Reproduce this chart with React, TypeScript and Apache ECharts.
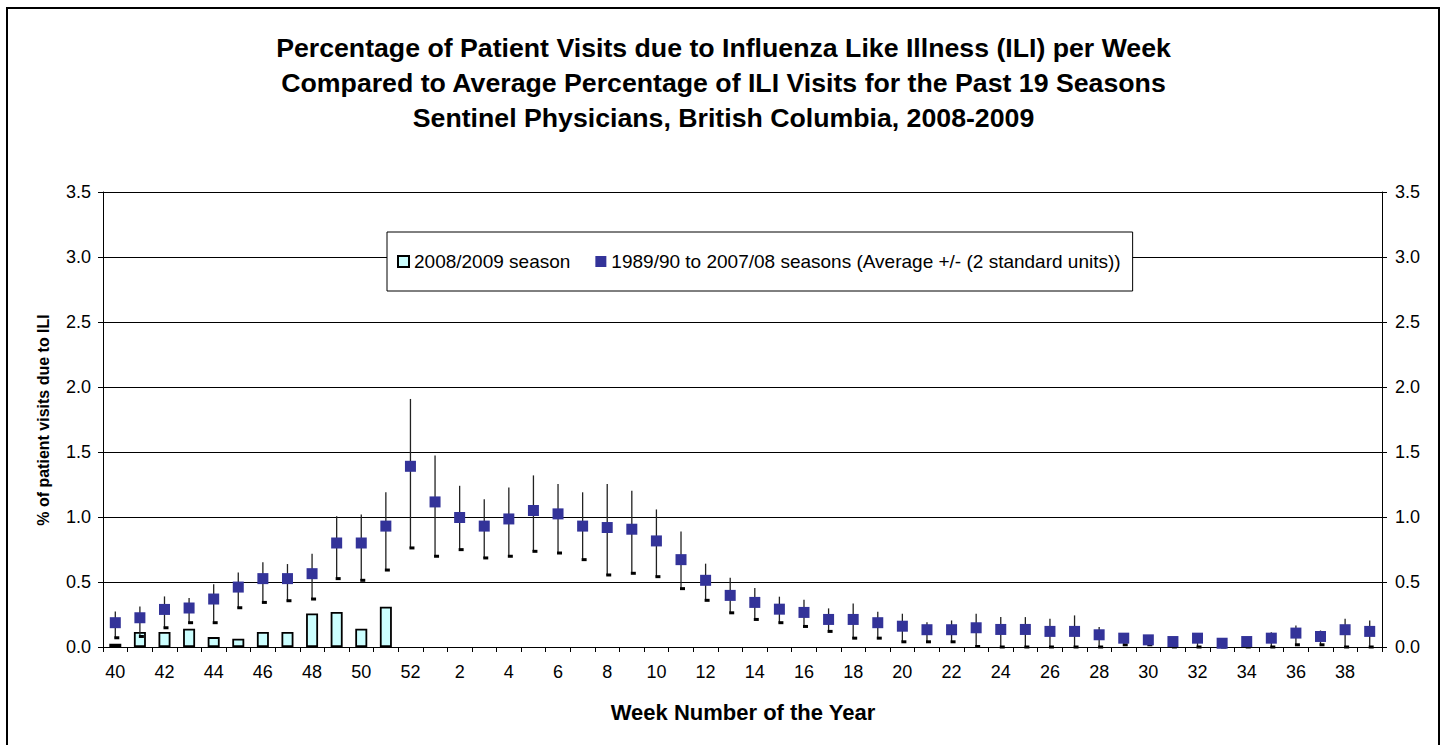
import React, { useEffect, useRef } from "react";
import * as echarts from "echarts";

const weeks = [
  "40","41","42","43","44","45","46","47","48","49","50","51","52",
  "1","2","3","4","5","6","7","8","9","10","11","12","13","14","15","16","17","18","19","20",
  "21","22","23","24","25","26","27","28","29","30","31","32","33","34","35","36","37","38","39",
];

// 2008/2009 season (only weeks 40-51 reported)
const season2008: (number | null)[] = [
  0.025, 0.115, 0.115, 0.14, 0.076, 0.063, 0.115, 0.115, 0.258, 0.27, 0.14, 0.31,
  null, null, null, null, null, null, null, null, null, null, null, null, null, null,
  null, null, null, null, null, null, null, null, null, null, null, null, null, null,
  null, null, null, null, null, null, null, null, null, null, null, null,
];

// 1989/90 to 2007/08 seasons average
const avg = [
  0.187, 0.225, 0.289, 0.30, 0.369, 0.461, 0.526, 0.526, 0.564, 0.80, 0.80, 0.93, 1.39,
  1.116, 0.996, 0.93, 0.985, 1.05, 1.024, 0.93, 0.919, 0.906, 0.816, 0.672, 0.513, 0.397,
  0.343, 0.291, 0.266, 0.212, 0.212, 0.187, 0.16, 0.133, 0.133, 0.148, 0.135, 0.135, 0.12,
  0.12, 0.094, 0.068, 0.055, 0.042, 0.068, 0.029, 0.042, 0.068, 0.107, 0.081, 0.133, 0.12,
];

// Average + 2 standard units
const hi = [
  0.274, 0.312, 0.389, 0.376, 0.482, 0.574, 0.651, 0.638, 0.718, 1.006, 1.019, 1.19, 1.908,
  1.474, 1.24, 1.137, 1.227, 1.32, 1.253, 1.19, 1.253, 1.201, 1.058, 0.888, 0.641, 0.533,
  0.453, 0.387, 0.364, 0.297, 0.335, 0.271, 0.256, 0.19, 0.204, 0.256, 0.23, 0.23, 0.217,
  0.243, 0.153, 0.09, 0.075, 0.06, 0.09, 0.045, 0.06, 0.114, 0.166, 0.127, 0.217, 0.204,
];

// Average - 2 standard units
const lo = [
  0.071, 0.081, 0.148, 0.187, 0.187, 0.302, 0.343, 0.356, 0.369, 0.526, 0.513, 0.592, 0.762,
  0.698, 0.749, 0.685, 0.698, 0.736, 0.723, 0.672, 0.554, 0.567, 0.541, 0.449, 0.359, 0.263,
  0.212, 0.187, 0.158, 0.12, 0.068, 0.068, 0.04, 0.04, 0.04, 0.004, 0, 0, 0,
  0, 0, 0.017, 0.017, 0, 0, 0, 0, 0, 0.017, 0.017, 0, 0,
];

const titleLines = [
  "Percentage of Patient Visits due to Influenza Like Illness (ILI) per Week",
  "Compared to Average Percentage of ILI Visits for the Past 19 Seasons",
  "Sentinel Physicians, British Columbia, 2008-2009",
];
const seasonName = "2008/2009 season";
const avgName = "1989/90 to 2007/08 seasons (Average +/- (2 standard units))";
const yName = "% of patient visits due to ILI";
const xName = "Week Number of the Year";

const FONT = "'Liberation Sans', Arial, sans-serif";

export default function App() {
  const ref = useRef<HTMLDivElement>(null);

  useEffect(() => {
    if (!ref.current) return;
    const chart = echarts.init(ref.current, null, { renderer: "svg" });

    const errData = weeks.map((_, i) => [i, lo[i], hi[i]]);

    const yAxisBase = {
      type: "value",
      min: 0,
      max: 3.5,
      interval: 0.5,
      axisLine: { show: true, lineStyle: { color: "#000", width: 1 } },
      axisTick: { show: true, length: 5, lineStyle: { color: "#000", width: 1 } },
      axisLabel: {
        color: "#000",
        fontSize: 18,
        fontFamily: FONT,
        formatter: (v: number) => v.toFixed(1),
      },
    };

    const option = {
      animation: false,
      backgroundColor: "#fff",
      textStyle: { fontFamily: FONT },
      title: {
        text: titleLines.join("\n"),
        left: "center",
        top: 30,
        padding: 0,
        textStyle: {
          fontSize: 26.7,
          fontWeight: "bold",
          color: "#000",
          lineHeight: 35,
          fontFamily: FONT,
        },
      },
      legend: {
        left: 387,
        top: 232,
        padding: [20, 12, 20, 10],
        itemGap: 25,
        itemWidth: 11,
        itemHeight: 11,
        itemTextGap: 5,
        backgroundColor: "#fff",
        borderColor: "#000",
        borderWidth: 1,
        borderRadius: 0,
        textStyle: { fontSize: 19, color: "#000", fontFamily: FONT },
        data: [
          { name: seasonName, icon: "rect" },
          { name: avgName, icon: "rect" },
        ],
      },
      grid: { left: 103, right: 65, top: 192, bottom: 98, containLabel: false },
      xAxis: {
        type: "category",
        data: weeks,
        boundaryGap: true,
        axisLine: { show: true, lineStyle: { color: "#000", width: 1 } },
        axisTick: { show: true, interval: 0, length: 5, lineStyle: { color: "#000", width: 1 } },
        axisLabel: {
          interval: 1,
          color: "#000",
          fontSize: 18,
          fontFamily: FONT,
          margin: 16,
        },
        splitLine: { show: false },
      },
      yAxis: [
        {
          ...yAxisBase,
          position: "left",
          axisLabel: { ...yAxisBase.axisLabel, margin: 12 },
          splitLine: { show: true, lineStyle: { color: "#000", width: 1 } },
        },
        {
          ...yAxisBase,
          position: "right",
          axisLabel: { ...yAxisBase.axisLabel, margin: 13 },
          splitLine: { show: false },
        },
      ],
      series: [
        {
          name: seasonName,
          type: "bar",
          data: season2008,
          barWidth: 12,
          z: 2,
          itemStyle: { color: "#CCFFFF", borderColor: "#000", borderWidth: 1.8 },
        },
        {
          name: "errorbars",
          type: "custom",
          z: 3,
          data: errData,
          encode: { x: 0, y: [1, 2] },
          renderItem: (params: any, api: any) => {
            const i = api.value(0);
            const pLo = api.coord([i, api.value(1)]);
            const pHi = api.coord([i, api.value(2)]);
            return {
              type: "group",
              children: [
                {
                  type: "line",
                  shape: { x1: pLo[0], y1: pLo[1], x2: pHi[0], y2: pHi[1] },
                  style: { stroke: "#222", lineWidth: 1.3 },
                },
                {
                  type: "rect",
                  shape: { x: pLo[0] - 1, y: pLo[1] - 1.5, width: 5, height: 3 },
                  style: { fill: "#000" },
                },
              ],
            };
          },
        },
        {
          name: avgName,
          type: "scatter",
          data: avg,
          symbol: "rect",
          symbolSize: 11,
          z: 4,
          itemStyle: { color: "#333399", opacity: 1 },
        },
      ],
      graphic: [
        {
          type: "polyline",
          shape: { points: [[7, 745], [7, 8], [1439, 8], [1439, 745]] },
          style: { stroke: "#000", lineWidth: 2, fill: "none" },
          silent: true,
        },
        {
          type: "text",
          x: 43,
          y: 420,
          rotation: Math.PI / 2,
          style: {
            text: yName,
            fontSize: 16,
            fontWeight: "bold",
            fill: "#000",
            fontFamily: FONT,
            align: "center",
            verticalAlign: "middle",
          },
        },
        {
          type: "text",
          x: 743,
          y: 712,
          style: {
            text: xName,
            fontSize: 22,
            fontWeight: "bold",
            fill: "#000",
            fontFamily: FONT,
            align: "center",
            verticalAlign: "middle",
          },
        },
      ],
    };

    chart.setOption(option as any);
    return () => chart.dispose();
  }, []);

  return (
    <div
      ref={ref}
      style={{ position: "absolute", left: 0, top: 0, width: 1447, height: 745 }}
    />
  );
}
